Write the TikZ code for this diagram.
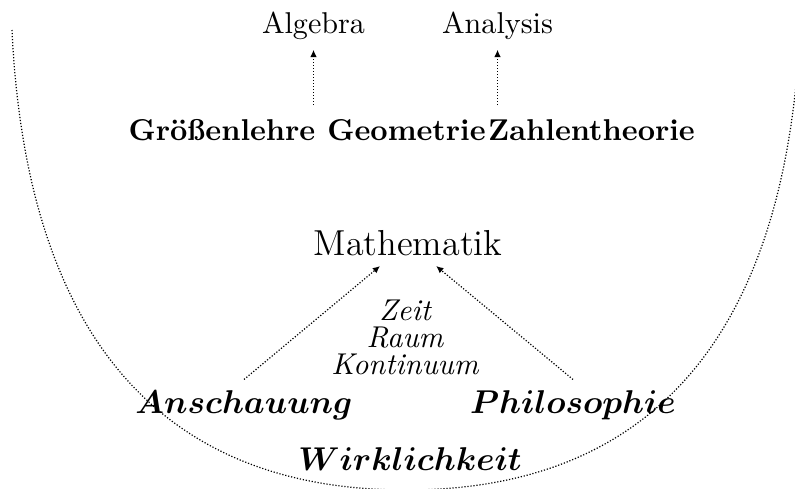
\documentclass[tikz,border=0pt]{standalone}
\usepackage{amsmath, amssymb}
\usetikzlibrary{arrows.meta}

\begin{document}
\begin{tikzpicture}[x=0.3322pt, y=0.3322pt,
      every node/.style={font=\normalsize},
      dotline/.style={line width=0.4pt, dash pattern=on 0.4pt off 0.6pt},
      arr/.style={dotline, -{Latex[length=2.4pt, width=2.2pt]}},
      source/.style={anchor=base, font=\fontsize{10.95}{13}\selectfont\boldmath}]
    \useasboundingbox (0,0) rectangle (795,488);
    \clip (0,0) rectangle (795,488);
    % top row
    \node[anchor=base] (alg) at (313.5,455) {Algebra};
    \node[anchor=base] (ana) at (497.5,455) {Analysis};
    \coordinate (alg-in) at (313.5,383);
    \coordinate (ana-in) at (497.5,383);
    \draw[arr] (alg-in) -- (alg);
    \draw[arr] (ana-in) -- (ana);
    % branches
    \node[anchor=base, font=\bfseries] (groesse) at (222,348) {Größenlehre};
    \node[anchor=base, font=\bfseries] (geo) at (406.5,348) {Geometrie};
    \node[anchor=base, font=\bfseries] (zahl) at (591.5,348) {Zahlentheorie};
    \node[anchor=base, font=\large] (math) at (408,233) {Mathematik};
    \node[align=center, font=\itshape] (topics) at (405,151)
          {Zeit\\[-3pt]Raum\\[-3pt]Kontinuum};
    % sources
    \node[source] (ansch) at (244,75) {$Anschauung$};
    \node[source] (philo) at (573,75) {$Philosophie$};
    \node[source] (wirk) at (410,18) {$Wirklichkeit$};
    \draw[arr] (ansch.north) -- (math);
    \draw[arr] (philo.north) -- (math);
    \draw[dotline] (12,458) .. controls (26,158) and (156,-2) .. (406,-2)
          .. controls (656,-2) and (786,158) .. (800,458);
\end{tikzpicture}
\end{document}
